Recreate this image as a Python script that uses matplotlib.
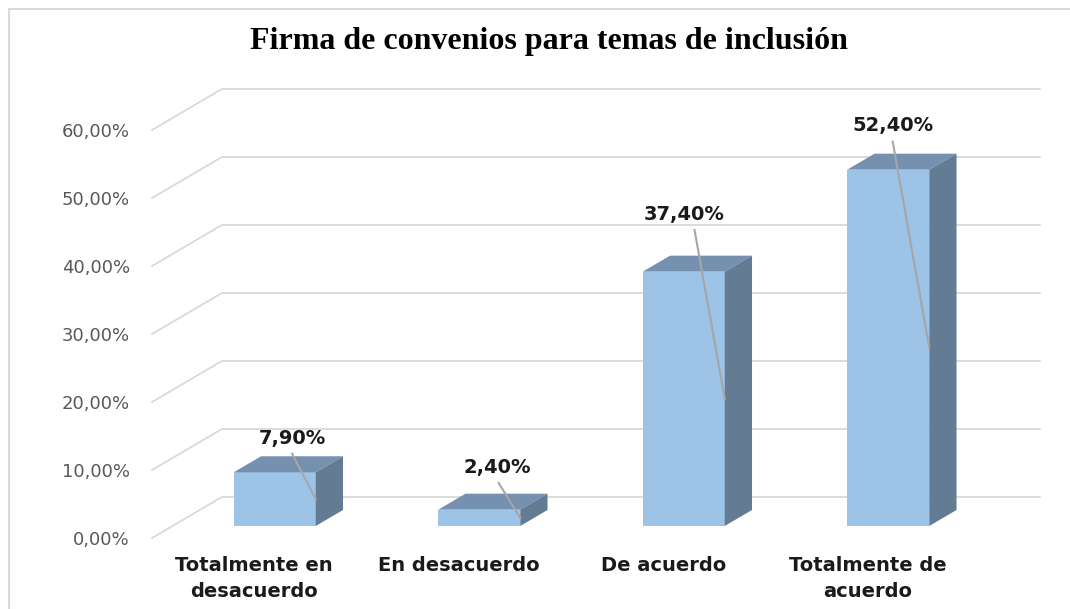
import numpy as np
import matplotlib
matplotlib.use("Agg")
import matplotlib.pyplot as plt
from matplotlib.patches import Polygon
from matplotlib.lines import Line2D

# datos
categorias = ["Totalmente en\ndesacuerdo", "En desacuerdo", "De acuerdo", "Totalmente de\nacuerdo"]
valores = [7.9, 2.4, 37.4, 52.4]
etiquetas = ["7,90%", "2,40%", "37,40%", "52,40%"]
ticks_y = [0, 10, 20, 30, 40, 50, 60]
ticks_y_txt = ["0,00%", "10,00%", "20,00%", "30,00%", "40,00%", "50,00%", "60,00%"]

# geometria pseudo 3D (profundidad en unidades de datos)
DX, DY = 0.342, 6.03     # desplazamiento de fondo completo
d_front, d_prof = 0.293, 0.39
ancho = 0.401
lab_dx = [0.185, 0.19, 0.103, 0.122]
lab_dy = [6.8, 8.0, 10.2, 8.2]
lead_dx = [0.0, 0.005, 0.05, 0.0]

c_front = "#9DC3E6"
c_top = "#7691B0"
c_side = "#637C94"
c_grid = "#D9D9D9"

fig = plt.figure(figsize=(10.7, 6.09), dpi=100, facecolor="white")
ax = fig.add_axes([152 / 1070, 71 / 609, 818 / 1070, 408 / 609])
ax.set_xlim(-0.5, 3.5)
ax.set_ylim(0, 60)
ax.patch.set_alpha(0)
for s in ax.spines.values():
    s.set_visible(False)

# borde del grafico (izquierda y arriba)
ytop = 1 - 8.5 / 609
xleft = 9 / 1070
fig.add_artist(Line2D([xleft, xleft], [0, ytop], transform=fig.transFigure, color=c_grid, lw=1.5))
fig.add_artist(Line2D([xleft, 1], [ytop, ytop], transform=fig.transFigure, color=c_grid, lw=1.5))

# rejilla: pared lateral y fondo
for v in ticks_y:
    ax.plot([-0.5, -0.5 + DX, 3.5 + DX], [v, v + DY, v + DY],
            color=c_grid, lw=1.3, clip_on=False, zorder=1)

# barras
for i, v in enumerate(valores):
    x0 = i - ancho / 2 + d_front * DX
    x1 = i + ancho / 2 + d_front * DX
    y0 = d_front * DY
    y1 = v + d_front * DY
    ex, ey = d_prof * DX, d_prof * DY
    ax.add_patch(Polygon([(x0, y0), (x1, y0), (x1, y1), (x0, y1)],
                         closed=True, fc=c_front, ec="none", zorder=3, clip_on=False))
    ax.add_patch(Polygon([(x0, y1), (x1, y1), (x1 + ex, y1 + ey), (x0 + ex, y1 + ey)],
                         closed=True, fc=c_top, ec="none", zorder=3, clip_on=False))
    ax.add_patch(Polygon([(x1, y0), (x1 + ex, y0 + ey), (x1 + ex, y1 + ey), (x1, y1)],
                         closed=True, fc=c_side, ec="none", zorder=3, clip_on=False))
    # etiqueta con linea guia
    lx = i + lab_dx[i]
    ly = v + lab_dy[i]
    ax.plot([lx + lead_dx[i], x1], [ly - 2.3, v / 2 + d_front * DY],
            color="#A6A6A6", lw=1.5, zorder=4, clip_on=False)
    ax.text(lx, ly, etiquetas[i], ha="center", va="center", fontsize=14,
            fontweight="bold", color="#1a1a1a", family="DejaVu Sans", zorder=5)

ax.set_yticks(ticks_y)
ax.set_yticklabels(ticks_y_txt, fontsize=13, color="#595959", family="DejaVu Sans")
ax.set_xticks(range(len(categorias)))
ax.set_xticklabels(categorias, fontsize=14, fontweight="bold", color="#1a1a1a",
                   family="DejaVu Sans", linespacing=1.45)
ax.tick_params(axis="y", length=0, pad=16)
ax.tick_params(axis="x", length=0, pad=13)

fig.text(549 / 1070, (609 - 41) / 609, "Firma de convenios para temas de inclusión",
         ha="center", va="center", fontsize=23, fontweight="bold",
         family="Liberation Serif", color="black")

fig.savefig("out.png", dpi=100, facecolor="white")
